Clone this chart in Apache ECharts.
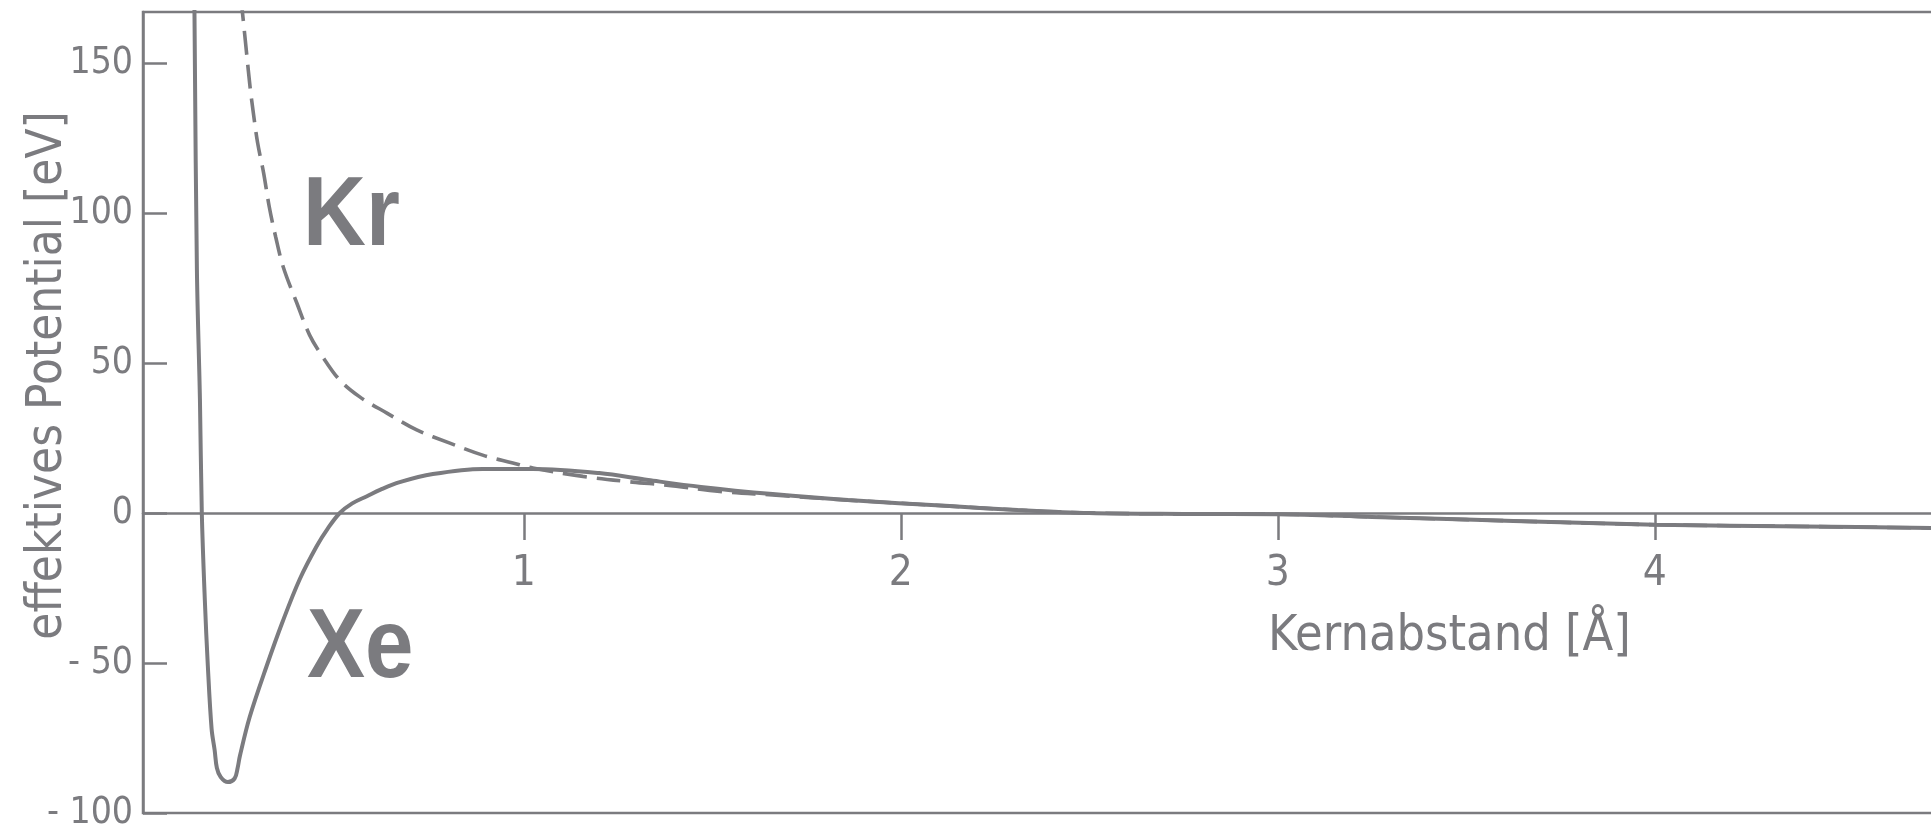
<!DOCTYPE html>
<html>
<head>
<meta charset="utf-8">
<script src="https://cdn.jsdelivr.net/npm/echarts@6/dist/echarts.min.js"></script>
<style>
html,body{margin:0;padding:0;background:#fff;}
#chart{width:1931px;height:830px;}
</style>
</head>
<body>
<div id="chart"></div>
<script>
// Kernabstand [Å], effektives Potential [eV]
var xeX = [0.126, 0.133, 0.141, 0.146, 0.154, 0.162, 0.172, 0.180, 0.186, 0.196, 0.215, 0.233, 0.241, 0.247, 0.273, 0.318, 0.361, 0.406, 0.451, 0.480, 0.512, 0.545, 0.584, 0.620, 0.671, 0.759, 0.891, 1.024, 1.20, 1.33, 1.47, 1.66, 1.86, 2.13, 2.31, 2.50, 2.75, 3.00, 3.25, 3.50, 3.75, 4.00, 4.40, 4.75];
var xeY = [175, 81, 38, 0, -29, -51, -72, -79, -85, -88, -89.7, -88.5, -85, -81, -68, -51, -36, -22, -11, -5.2, 0, 3.2, 5.6, 7.8, 10.3, 13, 14.7, 14.7, 13.3, 11, 8.7, 6.3, 4.3, 2.3, 1, 0, -0.3, -0.4, -1.3, -2.2, -3.1, -3.9, -4.5, -5.0];

var krX = [0.249, 0.254, 0.265, 0.274, 0.282, 0.294, 0.310, 0.325, 0.342, 0.362, 0.398, 0.432, 0.467, 0.512, 0.565, 0.637, 0.716, 0.804, 0.891, 0.971, 1.024, 1.157, 1.289, 1.379, 1.52, 1.66, 1.86, 2.13, 2.31, 2.50, 2.75, 3.00, 3.25, 3.50, 3.75, 4.00, 4.40, 4.75];
var krY = [172, 166.6, 153, 142, 134, 123.4, 113.3, 102, 92, 82, 70, 59.3, 52, 44.3, 38.7, 33.3, 27.7, 23.3, 19.3, 16.7, 15, 12.2, 10.3, 9.3, 7.2, 6.0, 4.3, 2.3, 1, 0, -0.3, -0.4, -1.3, -2.2, -3.1, -3.9, -4.5, -5.0];

var xTicks = [1, 2, 3, 4];
var yTicks = [-100, -50, 0, 50, 100, 150];
var xTitle = 'Kernabstand [Å]';
var yTitle = 'effektives Potential [eV]';
var krName = 'Kr';
var xeName = 'Xe';

function pairs(xs, ys) { return xs.map(function (x, i) { return [x, ys[i]]; }); }

var INK = '#7b7b7f';
var NARROW = '"DejaVu Sans Condensed", "Liberation Sans", sans-serif';
var SANS = '"Liberation Sans", Arial, sans-serif';

// grid geometry: y from -100 (bottom) to 167 (top); the x axis is lifted to y = 0
var GRID_TOP = 12, GRID_BOTTOM = 17, Y_MIN = -100, Y_MAX = 167;
var plotH = 830 - GRID_TOP - GRID_BOTTOM;
var zeroLift = -plotH * (0 - Y_MIN) / (Y_MAX - Y_MIN);

var chart = echarts.init(document.getElementById('chart'), null, {renderer: 'canvas'});
chart.setOption({
  animation: false,
  backgroundColor: '#ffffff',
  grid: {
    left: 143, right: -5, top: GRID_TOP, bottom: GRID_BOTTOM,
    show: true, borderColor: INK, borderWidth: 2.5, backgroundColor: 'transparent',
    containLabel: false, outerBoundsMode: 'none'
  },
  xAxis: {
    type: 'value', min: -0.01, max: 4.746, position: 'bottom', offset: zeroLift,
    axisLine: {show: true, onZero: false, lineStyle: {color: INK, width: 2.5}},
    axisTick: {show: true, inside: false, length: 27, customValues: xTicks, lineStyle: {color: INK, width: 2.5}},
    axisLabel: {show: true, customValues: xTicks, margin: 40, color: INK, fontFamily: NARROW, fontSize: 42},
    splitLine: {show: false},
    name: xTitle, nameLocation: 'middle', nameGap: 99, nameMoveOverlap: false,
    nameTextStyle: {color: INK, fontFamily: NARROW, fontSize: 50, padding: [0, 0, 0, 820]}
  },
  yAxis: {
    type: 'value', min: Y_MIN, max: Y_MAX,
    axisLine: {show: true, onZero: false, lineStyle: {color: INK, width: 2.5}},
    axisTick: {show: true, inside: true, length: 24, customValues: yTicks, lineStyle: {color: INK, width: 2.5}},
    axisLabel: {
      show: true, customValues: yTicks, margin: 10, color: INK, fontFamily: NARROW, fontSize: 37,
      formatter: function (v) { return v < 0 ? '- ' + Math.abs(v) : String(v); }
    },
    splitLine: {show: false},
    name: yTitle, nameLocation: 'middle', nameGap: 70, nameRotate: 90, nameMoveOverlap: false,
    nameTextStyle: {color: INK, fontFamily: NARROW, fontSize: 49, padding: [0, 0, 0, 74]}
  },
  series: [
    {
      name: krName, type: 'line', data: pairs(krX, krY), showSymbol: false, symbol: 'none',
      smooth: 0.35, clip: true,
      lineStyle: {color: INK, width: 3.6, type: [24, 10]}, z: 2
    },
    {
      name: xeName, type: 'line', data: pairs(xeX, xeY), showSymbol: false, symbol: 'none',
      smooth: 0.35, clip: true,
      lineStyle: {color: INK, width: 4, type: 'solid'}, z: 3
    }
  ],
  graphic: [
    {type: 'text', x: 303, y: 168, scaleX: 0.88, style: {text: krName, font: 'bold 99px ' + SANS, fill: INK, textAlign: 'left', textVerticalAlign: 'top'}},
    {type: 'text', x: 307, y: 600, scaleX: 0.88, style: {text: xeName, font: 'bold 99px ' + SANS, fill: INK, textAlign: 'left', textVerticalAlign: 'top'}}
  ]
});
</script>
</body>
</html>
